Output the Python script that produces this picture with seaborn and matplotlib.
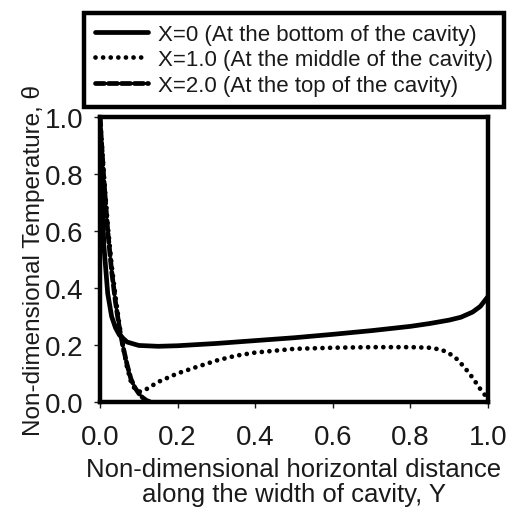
import numpy as np
import pandas as pd
import matplotlib
matplotlib.use("Agg")
import matplotlib.pyplot as plt
import seaborn as sns

# Data
y_x0 = [0, 0.005, 0.01, 0.02, 0.03, 0.04, 0.05, 0.07, 0.1, 0.15, 0.2, 0.3, 0.4, 0.5,
        0.6, 0.7, 0.8, 0.85, 0.9, 0.93, 0.96, 0.98, 1.0]
t_x0 = [1.0, 0.75, 0.55, 0.38, 0.30, 0.26, 0.235, 0.21, 0.198, 0.195, 0.197, 0.205,
        0.215, 0.225, 0.237, 0.25, 0.265, 0.275, 0.287, 0.297, 0.315, 0.335, 0.37]

y_x1 = [0, 0.01, 0.02, 0.03, 0.04, 0.05, 0.06, 0.07, 0.08, 0.09, 0.1, 0.12, 0.15, 0.2,
        0.25, 0.3, 0.35, 0.4, 0.5, 0.6, 0.7, 0.8, 0.85, 0.88, 0.9, 0.92, 0.94, 0.96,
        0.98, 1.0]
t_x1 = [1.0, 0.8, 0.62, 0.48, 0.37, 0.27, 0.19, 0.12, 0.07, 0.045, 0.035, 0.045, 0.07,
        0.1, 0.123, 0.145, 0.162, 0.173, 0.186, 0.19, 0.192, 0.192, 0.19, 0.183, 0.17,
        0.15, 0.12, 0.085, 0.045, 0.01]

y_x2 = [0, 0.01, 0.02, 0.03, 0.04, 0.05, 0.06, 0.07, 0.08, 0.09, 0.1, 0.11, 0.12, 0.13]
t_x2 = [1.0, 0.78, 0.6, 0.46, 0.35, 0.26, 0.19, 0.13, 0.08, 0.05, 0.03, 0.015, 0.005, 0.0]

labels = ["X=0 (At the bottom of the cavity)",
          "X=1.0 (At the middle of the cavity)",
          "X=2.0 (At the top of the cavity)"]
ticks = [0.0, 0.2, 0.4, 0.6, 0.8, 1.0]
tick_labels = ["0.0", "0.2", "0.4", "0.6", "0.8", "1.0"]

sns.set_style("ticks")
plt.rcParams['font.family'] = ['Liberation Sans', 'DejaVu Sans']
txt = '#1a1a1a'

fig = plt.figure(figsize=(5.1, 5.1), dpi=100)
ax = fig.add_axes([0.196, 0.21, 0.761, 0.559])

styles = ['-', (0, (0.01, 1.6)), (0, (1.9, 0.85))]
series = [(y_x0, t_x0), (y_x1, t_x1), (y_x2, t_x2)]
for (xs, ts), lab, ls in zip(series, labels, styles):
    df = pd.DataFrame({"Y": xs, "theta": ts})
    sns.lineplot(data=df, x="Y", y="theta", ax=ax, color='black', lw=3.4,
                 linestyle=ls, label=lab, dash_capstyle='round', solid_capstyle='round')

ax.set_xlim(0, 1.0)
ax.set_ylim(0, 1.0)
ax.set_xticks(ticks)
ax.set_xticklabels(tick_labels)
ax.set_yticks(ticks)
ax.set_yticklabels(tick_labels)
ax.tick_params(axis='both', labelsize=20, colors=txt, length=4, width=1, direction='out', pad=8)
ax.tick_params(axis='x', pad=12)
for s in ax.spines.values():
    s.set_linewidth(3.2)
    s.set_color('black')

ax.set_xlabel("Non-dimensional horizontal distance\nalong the width of cavity, Y",
              fontsize=18.5, color=txt, labelpad=5, linespacing=1.05)
ax.set_ylabel("Non-dimensional Temperature, θ", fontsize=17.5, color=txt, labelpad=0)

leg = ax.legend(loc='lower center', bbox_to_anchor=(0.5, 1.0), fontsize=16,
                frameon=True, fancybox=False, edgecolor='black', framealpha=1,
                handlelength=2.4, handletextpad=0.45, borderpad=0.5, labelspacing=0.2,
                borderaxespad=0.45)
leg.get_frame().set_linewidth(3.2)
for t in leg.get_texts():
    t.set_color(txt)

fig.savefig("out.png", dpi=100)
